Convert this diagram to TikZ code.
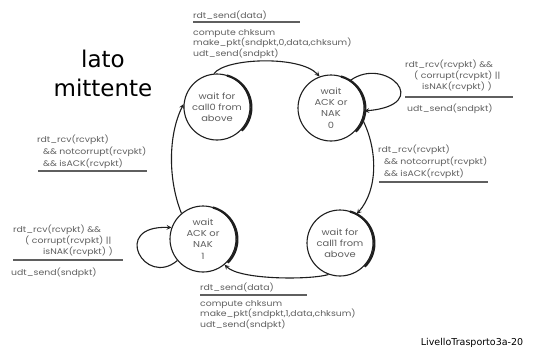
\documentclass[tikz,border=0pt]{standalone}
\usepackage{fontspec}
\usepackage{tikz}
\newfontfamily\lblfont[FakeStretch=1.15]{Poppins}
\newfontfamily\titlefont{DejaVu Sans}
\definecolor{txt}{RGB}{95, 95, 95}
\definecolor{ink}{RGB}{30, 30, 30}

\begin{document}
\begin{tikzpicture}[x=1pt, y=1pt, >=stealth,
  state/.style={circle, draw=ink, line width=1.1, minimum size=66, inner sep=0,
    align=center, text=txt, font={\lblfont\fontsize{8.6}{11.2}\selectfont}},
  lbl/.style={anchor=north west, inner sep=0, align=left, text=txt,
    font={\lblfont\fontsize{8.1}{9.5}\selectfont}},
  rule/.style={draw=txt, line width=1.4},
  arc/.style={->, draw=ink, line width=1.1}]
  \fill [white] (0, 0) rectangle (557, -357);
  \useasboundingbox (0, 0) rectangle (557, -357);

  \node (side) at (103, -73) [align=center, font={\titlefont\fontsize{23}{29}\selectfont}]
  {lato\\mittente};
  \node (slide) at (472, -343) [font={\titlefont\fontsize{9.5}{10}\selectfont}]
  {LivelloTrasporto3a-20};

  \node [state] (call0) at (217, -107) {wait for\\call0 from\\above};
  \node [state] (ack0) at (331, -108) {wait\\ACK or\\NAK\\0};
  \node [state] (call1) at (340, -243) {wait for\\call1 from\\above};
  \node [state] (ack1) at (203, -239) {wait\\ACK or\\NAK\\1};

  \foreach \s in {call0, ack0, call1, ack1}
    \draw [ink, line width=2.2] ([xshift=1]\s.-45) arc [start angle=-45, end angle=75, radius=33];

  \draw [arc] (call0.95) .. controls (225, -58) and (300, -55) .. (ack0.110);
  \draw [arc] (ack0.55) .. controls (385, -55) and (435, -105) .. (ack0.-5);
  \draw [arc] (ack0.-20) .. controls (378, -150) and (378, -190) .. (call1.60);
  \draw [arc] (call1.-110) .. controls (310, -280) and (240, -280) .. (ack1.-50);
  \draw [arc] (ack1.-140) .. controls (145, -288) and (110, -225) .. (ack1.160);
  \draw [arc] (ack1.130) .. controls (168, -180) and (168, -135) .. (call0.175);

  % rdt_send, pkt 0
  \node [lbl] (ev0) at (193, -11) {rdt\_send(data)};
  \draw [rule] (193, -22) -- (300, -22);
  \node [lbl] (act0) at (193, -29) {compute chksum\\make\_pkt(sndpkt,0,data,chksum)\\udt\_send(sndpkt)};

  % resend 0
  \node [lbl] (ev1) at (405, -60) {rdt\_rcv(rcvpkt) \&\&\\\hspace*{9pt}( corrupt(rcvpkt) ||\\\hspace*{17pt}isNAK(rcvpkt) )};
  \draw [rule] (405, -97) -- (513, -97);
  \node [lbl] (act1) at (407, -104) {udt\_send(sndpkt)};

  % ack 0
  \node [lbl, font={\lblfont\fontsize{8.1}{12}\selectfont}] (ev2) at (378, -145)
  {rdt\_rcv(rcvpkt)\\\hspace*{6pt}\&\& notcorrupt(rcvpkt)\\\hspace*{6pt}\&\& isACK(rcvpkt)};
  \draw [rule] (379, -182) -- (488, -182);

  % ack 1
  \node [lbl, font={\lblfont\fontsize{8.1}{12}\selectfont}] (ev3) at (37, -135)
  {rdt\_rcv(rcvpkt)\\\hspace*{6pt}\&\& notcorrupt(rcvpkt)\\\hspace*{6pt}\&\& isACK(rcvpkt)};
  \draw [rule] (38, -171) -- (147, -171);

  % resend 1
  \node [lbl] (ev4) at (13, -225) {rdt\_rcv(rcvpkt) \&\&\\\hspace*{12pt}( corrupt(rcvpkt) ||\\\hspace*{30pt}isNAK(rcvpkt) )};
  \draw [rule] (13, -260) -- (123, -260);
  \node [lbl] (act4) at (11, -268) {udt\_send(sndpkt)};

  % rdt_send, pkt 1
  \node [lbl] (ev5) at (200, -283) {rdt\_send(data)};
  \draw [rule] (200, -295) -- (307, -295);
  \node [lbl] (act5) at (200, -300) {compute chksum\\make\_pkt(sndpkt,1,data,chksum)\\udt\_send(sndpkt)};
\end{tikzpicture}
\end{document}
